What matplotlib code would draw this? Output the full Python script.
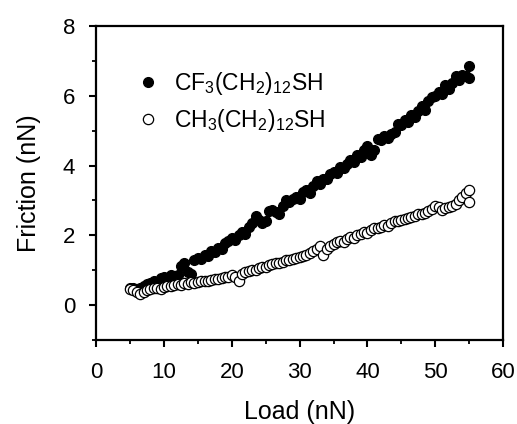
import numpy as np, matplotlib
matplotlib.use('Agg'); import matplotlib.pyplot as plt
from matplotlib.ticker import MultipleLocator
plt.rcParams.update({'font.family':'Liberation Sans','mathtext.default':'regular','font.size':13,
                     'axes.linewidth':1.6,'xtick.major.width':1.5,'ytick.major.width':1.5,
                     'xtick.minor.width':1.3,'ytick.minor.width':1.3,'xtick.major.size':5,'ytick.major.size':5,
                     'xtick.minor.size':3,'ytick.minor.size':3})

load = [5.0,5.5,6.0,6.5,7.0,7.5,8.0,8.5,9.0,9.5,10.0,10.5,11.0,11.5,12.0,12.5,13.0,13.5,14.0,14.5,
        15.0,15.5,16.0,16.5,17.0,17.5,18.0,18.5,19.0,19.5,20.0,20.5,21.0,21.5,22.0,22.5,23.0,23.5,24.0,24.5,
        25.0,25.5,26.0,26.5,27.0,27.5,28.0,28.5,29.0,29.5,30.0,30.5,31.0,31.5,32.0,32.5,33.0,33.5,34.0,34.5,
        35.0,35.5,36.0,36.5,37.0,37.5,38.0,38.5,39.0,39.5,40.0,40.5,41.0,41.5,42.0,42.5,43.0,43.5,44.0,44.5,
        45.0,45.5,46.0,46.5,47.0,47.5,48.0,48.5,49.0,49.5,50.0,50.5,51.0,51.5,52.0,52.5,53.0,53.5,54.0,54.5,
        55.0,55.0]
cf3 = [0.50,0.48,0.42,0.50,0.55,0.60,0.62,0.70,0.66,0.78,0.80,0.76,0.85,0.83,0.86,1.12,1.20,0.95,0.90,1.30,
       1.35,1.32,1.45,1.42,1.55,1.52,1.65,1.60,1.78,1.85,1.92,1.88,2.02,2.10,2.05,2.25,2.35,2.55,2.45,2.35,
       2.40,2.70,2.72,2.68,2.62,2.85,3.00,2.95,3.05,3.10,3.05,3.25,3.30,3.20,3.40,3.55,3.48,3.60,3.62,3.75,
       3.82,3.78,3.95,3.92,4.05,4.15,4.10,4.30,4.25,4.45,4.55,4.30,4.45,4.75,4.72,4.85,4.80,4.90,4.95,5.20,
       5.15,5.30,5.25,5.45,5.40,5.55,5.70,5.60,5.85,5.95,6.00,6.10,6.05,6.30,6.20,6.35,6.55,6.45,6.60,6.55,
       6.85,6.50]
ch3 = [0.45,0.42,0.38,0.33,0.38,0.42,0.45,0.48,0.50,0.47,0.52,0.55,0.55,0.58,0.60,0.58,0.62,0.60,0.65,0.63,
       0.66,0.68,0.70,0.70,0.72,0.74,0.76,0.78,0.80,0.82,0.85,0.80,0.70,0.90,0.95,0.98,1.00,1.02,1.05,1.08,
       1.10,1.15,1.18,1.22,1.20,1.25,1.28,1.30,1.32,1.35,1.38,1.42,1.45,1.50,1.55,1.60,1.70,1.45,1.62,1.70,
       1.75,1.80,1.85,1.82,1.90,1.95,1.92,2.00,2.05,2.10,2.08,2.15,2.20,2.22,2.25,2.30,2.28,2.35,2.40,2.42,
       2.45,2.48,2.50,2.52,2.55,2.60,2.62,2.65,2.70,2.75,2.85,2.80,2.72,2.78,2.80,2.85,2.90,3.00,3.10,3.20,
       3.30,2.95]

fig = plt.figure(figsize=(5.17,4.24), dpi=100)
ax = fig.add_axes([0.186,0.198,0.787,0.741])
ax.plot(load, cf3, 'o', color='black', ms=7.0, ls='none', label=r'CF$_3$(CH$_2$)$_{12}$SH')
ax.plot(load, ch3, 'o', mfc='white', mec='black', mew=0.9, ms=7.4, ls='none', label=r'CH$_3$(CH$_2$)$_{12}$SH')
ax.set_xlim(0,60); ax.set_ylim(-1,8)
ax.xaxis.set_major_locator(MultipleLocator(10)); ax.xaxis.set_minor_locator(MultipleLocator(5))
ax.yaxis.set_major_locator(MultipleLocator(2)); ax.yaxis.set_minor_locator(MultipleLocator(1))
ax.tick_params(which='both', direction='out', top=False, right=False)
ax.tick_params(axis='x', labelsize=16, pad=11)
ax.tick_params(axis='y', labelsize=16, pad=10)
ax.set_xlabel('Load (nN)', fontsize=18, labelpad=12)
ax.set_ylabel('Friction (nN)', fontsize=18, labelpad=16)
ax.legend(loc='upper left', bbox_to_anchor=(0.10,0.86), frameon=False, fontsize=16.5,
          handlelength=1.0, handletextpad=0.6, labelspacing=0.45, borderaxespad=0, borderpad=0)
fig.savefig('out.png', dpi=100)
